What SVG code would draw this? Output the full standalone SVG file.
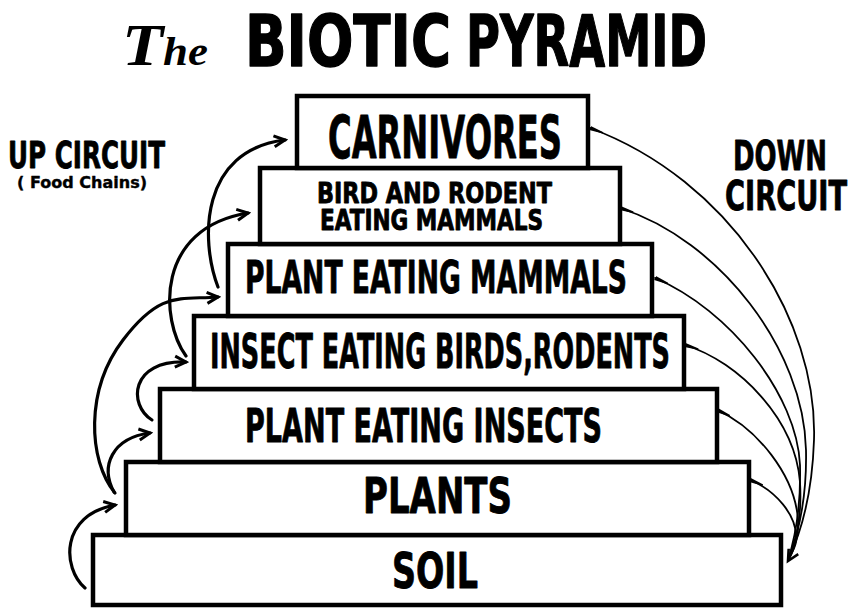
<svg xmlns="http://www.w3.org/2000/svg" width="858" height="610" viewBox="0 0 858 610">
<defs>
<style>
.box{fill:#fff;stroke:#000;stroke-width:4.5}
.lbl{font-family:"DejaVu Sans","Liberation Sans",sans-serif;font-weight:bold;fill:#000;stroke:#000;stroke-width:0.9;stroke-linejoin:round}
.up{fill:none;stroke:#000;stroke-width:3.2;stroke-linecap:round}
.down{fill:none;stroke:#000;stroke-width:1.8;stroke-linecap:round}
</style>
<marker id="ah" markerUnits="userSpaceOnUse" viewBox="0 0 16 16" refX="13" refY="8" markerWidth="16" markerHeight="16" orient="auto">
<path d="M2,2.5 L13,8 L2,13.5" fill="none" stroke="#000" stroke-width="3" stroke-linejoin="miter"/>
</marker>
<marker id="ahd" markerUnits="userSpaceOnUse" viewBox="0 0 16 16" refX="13" refY="8" markerWidth="16" markerHeight="16" orient="auto">
<path d="M2,2.5 L13,8 L2,13.5" fill="none" stroke="#000" stroke-width="2.6"/>
</marker>
<marker id="tail" markerUnits="userSpaceOnUse" viewBox="0 -3 14 6" refX="0" refY="0" markerWidth="14" markerHeight="6" orient="auto">
<path d="M0,-2.2 L14,-0.7 L14,0.7 L0,2.2 Z" fill="#000"/>
</marker>
</defs>
<rect width="858" height="610" fill="#fff"/>

<g id="title">
<text x="122" y="65" font-family="'Liberation Serif',serif" font-style="italic" font-weight="bold" textLength="86" lengthAdjust="spacingAndGlyphs"><tspan font-size="60">T</tspan><tspan font-size="40">he</tspan></text>
<text class="lbl" x="245" y="66" font-size="71" textLength="206" lengthAdjust="spacingAndGlyphs" style="stroke-width:1.4">BIOTIC</text>
<text class="lbl" x="466" y="66" font-size="71" textLength="241" lengthAdjust="spacingAndGlyphs" style="stroke-width:1.4">PYRAMID</text>
</g>

<g id="up-label">
<text class="lbl" x="8" y="168" font-size="38" textLength="157" lengthAdjust="spacingAndGlyphs">UP CIRCUIT</text>
<text class="lbl" x="17" y="188" font-size="16" textLength="130" lengthAdjust="spacingAndGlyphs" style="stroke-width:0.4">( Food Chains)</text>
</g>
<g id="down-label">
<text class="lbl" x="733" y="170" font-size="41" textLength="94" lengthAdjust="spacingAndGlyphs">DOWN</text>
<text class="lbl" x="725" y="210" font-size="41" textLength="122" lengthAdjust="spacingAndGlyphs">CIRCUIT</text>
</g>

<g id="soil">
<rect class="box" x="93" y="535" width="688" height="70"/>
<text class="lbl" x="392" y="588" font-size="49" textLength="86" lengthAdjust="spacingAndGlyphs">SOIL</text>
</g>
<g id="plants">
<rect class="box" x="126" y="462" width="623" height="73"/>
<text class="lbl" x="363" y="513" font-size="49" textLength="149" lengthAdjust="spacingAndGlyphs">PLANTS</text>
</g>
<g id="plant-eating-insects">
<rect class="box" x="160" y="389" width="557" height="73"/>
<text class="lbl" x="245" y="442" font-size="46" textLength="357" lengthAdjust="spacingAndGlyphs">PLANT EATING INSECTS</text>
</g>
<g id="insect-eating">
<rect class="box" x="194" y="316" width="490" height="73"/>
<text class="lbl" x="210" y="368" font-size="48" textLength="460" lengthAdjust="spacingAndGlyphs">INSECT EATING BIRDS,RODENTS</text>
</g>
<g id="plant-eating-mammals">
<rect class="box" x="228" y="244" width="424" height="72"/>
<text class="lbl" x="245" y="293" font-size="45" textLength="382" lengthAdjust="spacingAndGlyphs">PLANT EATING MAMMALS</text>
</g>
<g id="bird-rodent-eating">
<rect class="box" x="260" y="168" width="360" height="76"/>
<text class="lbl" x="317" y="203" font-size="27.5" textLength="235" lengthAdjust="spacingAndGlyphs">BIRD AND RODENT</text>
<text class="lbl" x="320" y="230" font-size="27.5" textLength="223" lengthAdjust="spacingAndGlyphs">EATING MAMMALS</text>
</g>
<g id="carnivores">
<rect class="box" x="297" y="96" width="291" height="72"/>
<text class="lbl" x="328" y="158" font-size="59" textLength="234" lengthAdjust="spacingAndGlyphs">CARNIVORES</text>
</g>

<g id="connectors">
<path class="up" d="M85,588 C62,568 60,515 115,505" marker-end="url(#ah)"/>
<path class="up" d="M114,492 C100,466 112,438 150,433" marker-end="url(#ah)"/>
<path class="up" d="M152,420 C128,405 130,360 186,362" marker-end="url(#ah)"/>
<path class="up" d="M115,493 C88,460 85,390 123,340 S180,300 218,297" marker-end="url(#ah)"/>
<path class="up" d="M186,356 C160,320 155,228 248,213" marker-end="url(#ah)"/>
<path class="up" d="M218,287 C200,240 200,150 285,140" marker-end="url(#ah)"/>

<path class="down" d="M590,128 C730,180 818,320 814,440 C812,500 800,535 788,560" marker-start="url(#tail)"/>
<path class="down" d="M620,208 C720,240 804,350 806,450 C807,500 798,535 788,560" marker-start="url(#tail)"/>
<path class="down" d="M655,278 C730,310 797,395 800,465 C801,505 796,535 788,560" marker-start="url(#tail)"/>
<path class="down" d="M685,345 C740,362 795,420 800,482 C802,515 797,540 788,560" marker-start="url(#tail)"/>
<path class="down" d="M717,410 C757,428 795,475 798,520 C799,540 794,550 788,560" marker-start="url(#tail)"/>
<path class="down" d="M750,480 C775,490 797,515 796,538 C795,548 792,554 788,561" marker-start="url(#tail)" marker-end="url(#ahd)"/>
</g>
</svg>
